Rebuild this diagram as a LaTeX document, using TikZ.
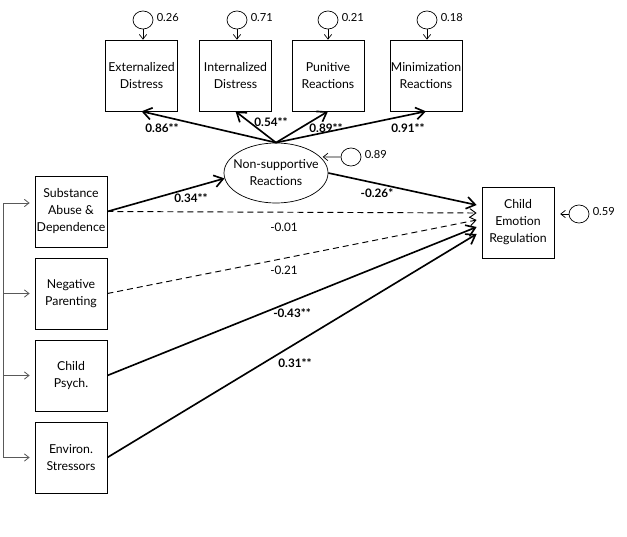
\documentclass[tikz,border=0pt]{standalone}
\usepackage{fontspec}
\setmainfont{Lato}
\usetikzlibrary{arrows.meta,positioning,calc,shapes.geometric}

\begin{document}
\begin{tikzpicture}[x=0.03cm,y=-0.03cm,
  obs/.style={draw,line width=0.6pt,minimum width=2.16cm,minimum height=2.13cm,
    inner sep=0pt,align=center,font=\fontsize{10.5}{14.5}\selectfont},
  lat/.style={draw,ellipse,line width=0.6pt,minimum width=3.12cm,minimum height=1.8cm,inner sep=0pt},
  err/.style={draw,ellipse,line width=0.6pt,minimum width=0.6cm,minimum height=0.54cm,inner sep=0pt},
  errnum/.style={anchor=west,font=\fontsize{9.5}{11}\selectfont,inner sep=1pt},
  coef/.style={font=\fontsize{10}{12}\selectfont\bfseries,inner sep=1pt},
  ncoef/.style={font=\fontsize{10}{12}\selectfont,inner sep=1pt},
  sig/.style={line width=1.4pt,-{Straight Barb[length=2.6mm,width=3.6mm]}},
  nsig/.style={line width=0.8pt,dash pattern=on 1.8mm off 1.2mm,-{Straight Barb[length=1.8mm,width=2.6mm]}},
  errarr/.style={line width=0.6pt,-{Straight Barb[length=1.4mm,width=2.2mm]}},
  cov/.style={gray!70!black,line width=0.7pt,-{Straight Barb[length=1.4mm,width=2.2mm]}}]
  \useasboundingbox (0,0) rectangle (627,536);
  % 上段：反応の4指標と残差
  \node[obs] (ext) at (141.5,75.5) {Externalized\\Distress};
  \node[obs] (int) at (235.5,75.5) {Internalized\\Distress};
  \node[obs] (pun) at (328,75.5) {Punitive\\Reactions};
  \node[obs] (mnz) at (426,75.5) {Minimization\\Reactions};
  \foreach \n/\cx/\v in {ext/143/0.26,int/237/0.71,pun/328/0.21,mnz/427/0.18}{
    \node[err] (e\n) at (\cx,20) {};
    \node[errnum] at ($(e\n.east)+(2,-2)$) {\v};
    \draw[errarr] (e\n.south) -- (\n.north -| e\n);
  }
  % 潜在変数と残差
  \node[lat,label={[align=center,font=\fontsize{10.5}{14.5}\selectfont]center:Non-supportive\\Reactions}] (nsr) at (276,173) {};
  \node[err] (ensr) at (351,157) {};
  \node[errnum] at ($(ensr.east)+(2,-2)$) {0.89};
  \draw[errarr,shorten >=2pt] (ensr.west) -- (nsr.20);
  % 因子負荷
  \foreach \n in {ext,int,pun,mnz}
    \draw[sig] (nsr.north) -- (\n.south);
  \node[coef] at (162,128) {0.86**};
  \node[coef] at (271,122) {0.54**};
  \node[coef] at (326,128) {0.89**};
  \node[coef] at (408,128) {0.91**};
  % 左側：予測変数
  \node[obs] (sub) at (71,211.5) {Substance\\Abuse \&\\Dependence};
  \node[obs] (neg) at (71,293.5) {Negative\\Parenting};
  \node[obs] (psy) at (71,375.5) {Child\\Psych.};
  \node[obs] (env) at (71,457.5) {Environ.\\Stressors};
  % 予測変数間の相関（左のブラケット）
  \coordinate (btop) at (3,203);
  \coordinate (bbot) at (3,457.5);
  \draw[gray!70!black,line width=0.7pt] (btop) -- (bbot);
  \draw[cov] (btop) -- ($(sub.west)+(-5,-8.5)$);
  \foreach \n in {neg,psy,env}
    \draw[cov] (\n.west -| btop) -- ($(\n.west)+(-5,0)$);
  % 右側：結果変数と残差
  \node[obs] (cer) at (518,222.5) {Child\\Emotion\\Regulation};
  \node[err] (ecer) at (579,214) {};
  \node[errnum] at ($(ecer.east)+(2,-2)$) {0.59};
  \draw[errarr,shorten >=5pt] (ecer.west) -- (ecer -| cer.east);
  % 結果変数への入口（矢印の先端）
  \foreach \k/\dy in {1/-17.5,2/-9.5,3/-2.5,4/4.5,5/11.5}
    \coordinate (in\k) at ($(cer.west)+(-5,\dy)$);
  % パス
  \draw[sig] (sub.east) -- (nsr.186);
  \draw[sig] (nsr.east) -- (in1);
  \draw[nsig] (sub.east) -- (in2);
  \draw[nsig] (neg.east) -- (in3);
  \draw[sig] (psy.east) -- (in4);
  \draw[sig] (env.east) -- (in5);
  \node[coef] at (191,198) {0.34**};
  \node[coef] at (377,193) {-0.26*};
  \node[ncoef] at (284,227) {-0.01};
  \node[ncoef] at (284,270) {-0.21};
  \node[coef] at (292,313) {-0.43**};
  \node[coef] at (295,363) {0.31**};
\end{tikzpicture}
\end{document}
